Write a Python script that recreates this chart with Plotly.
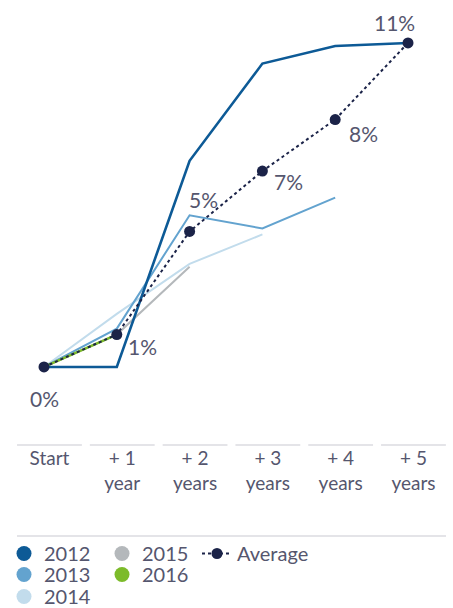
import plotly.graph_objects as go

categories = ["Start", "+ 1<br>year", "+ 2<br>years", "+ 3<br>years", "+ 4<br>years", "+ 5<br>years"]
x_idx = [0, 1, 2, 3, 4, 5]

s2012 = [0, 0, 7.0, 10.3, 10.9, 11.0]
s2013 = [0, 1.3, 5.15, 4.7, 5.75]
s2014 = [0, 1.8, 3.5, 4.5]
s2015 = [0, 1.1, 3.4]
s2016 = [0, 1.1]
average = [0, 1.1, 4.6, 6.65, 8.4, 11.0]
avg_labels = ["0%", "1%", "5%", "7%", "8%", "11%"]

TXT = "#55566e"
FONT = "Lato"
H_PLOT = 425  # plot area height in px (t=20 .. 445)

fig = go.Figure()

series = {
    "2012": (s2012, "#0d5a96", 2.6),
    "2013": (s2013, "#63a3cf", 2),
    "2014": (s2014, "#c2dcec", 2),
    "2015": (s2015, "#b4b8bb", 2),
    "2016": (s2016, "#7cbb2a", 2.5),
}
# draw order: light ones first, 2012 on top
for name in ["2014", "2015", "2013", "2016", "2012"]:
    vals, col, w = series[name]
    fig.add_trace(go.Scatter(
        x=x_idx[:len(vals)], y=vals, name=name, mode="lines",
        line=dict(color=col, width=w), showlegend=False,
    ))

fig.add_trace(go.Scatter(
    x=x_idx, y=average, name="Average", mode="lines+markers",
    line=dict(color="#1b2348", width=2, dash="dot"),
    marker=dict(color="#1b2348", size=11),
    legend="legend6",
))

# legend-only entries (circle swatches), one legend box each
legend_pos = {"2012": ("legend", 4, 534), "2013": ("legend2", 4, 555), "2014": ("legend3", 4, 577),
              "2015": ("legend4", 102, 534), "2016": ("legend5", 102, 555)}
for name in ["2012", "2013", "2014", "2015", "2016"]:
    vals, col, w = series[name]
    fig.add_trace(go.Scatter(
        x=[None], y=[None], name=name, mode="markers",
        marker=dict(color=col, size=15, symbol="circle"),
        legend=legend_pos[name][0],
    ))

# data labels for the average
shifts = [(0, -32), (26, -12), (14, 32), (26, -10), (28, -14), (-14, 20)]
for xi, v, lab, (dx, dy) in zip(x_idx, average, avg_labels, shifts):
    fig.add_annotation(x=xi, y=v, text=lab, showarrow=False, xshift=dx, yshift=dy,
                       font=dict(family=FONT, size=21, color=TXT))

# column separator segments above tick labels
for xi in x_idx:
    fig.add_shape(type="line", xref="x", yref="paper", x0=xi + 0.075 - 0.445, x1=xi + 0.075 + 0.445,
                  y0=0, y1=0, line=dict(color="#e4e4e8", width=2))
# legend separator
fig.add_shape(type="line", xref="paper", yref="paper", x0=17 / 453, x1=446 / 453,
              y0=(445 - 536) / H_PLOT, y1=(445 - 536) / H_PLOT, line=dict(color="#e4e4e8", width=2))

legend_common = dict(font=dict(family=FONT, size=20, color=TXT), bgcolor="rgba(0,0,0,0)",
                     orientation="v", xanchor="left", yanchor="top",
                     itemwidth=30, borderwidth=0)
legends = {}
for name, (key, px, py) in legend_pos.items():
    legends[key] = dict(x=px / 453, y=(445 - py) / H_PLOT, **legend_common)
legends["legend6"] = dict(x=197 / 453, y=(445 - 534) / H_PLOT, **legend_common)

fig.update_layout(
    width=453, height=608,
    margin=dict(l=0, r=0, t=20, b=608 - 20 - H_PLOT, autoexpand=False),
    paper_bgcolor="white", plot_bgcolor="white",
    showlegend=True,
    xaxis=dict(range=[-44 / 72.8, 5 + 45 / 72.8], showgrid=False, zeroline=False, showline=False,
               tickmode="array", tickvals=[i + 0.075 for i in x_idx], ticktext=categories,
               ticks="", tickfont=dict(family=FONT, size=19, color=TXT), fixedrange=True,
               automargin=False),
    yaxis=dict(range=[-2.65, 11.78], showgrid=False, zeroline=False, showline=False,
               showticklabels=False, ticks="", fixedrange=True, automargin=False),
    **legends,
)

fig.write_html("out.html")
